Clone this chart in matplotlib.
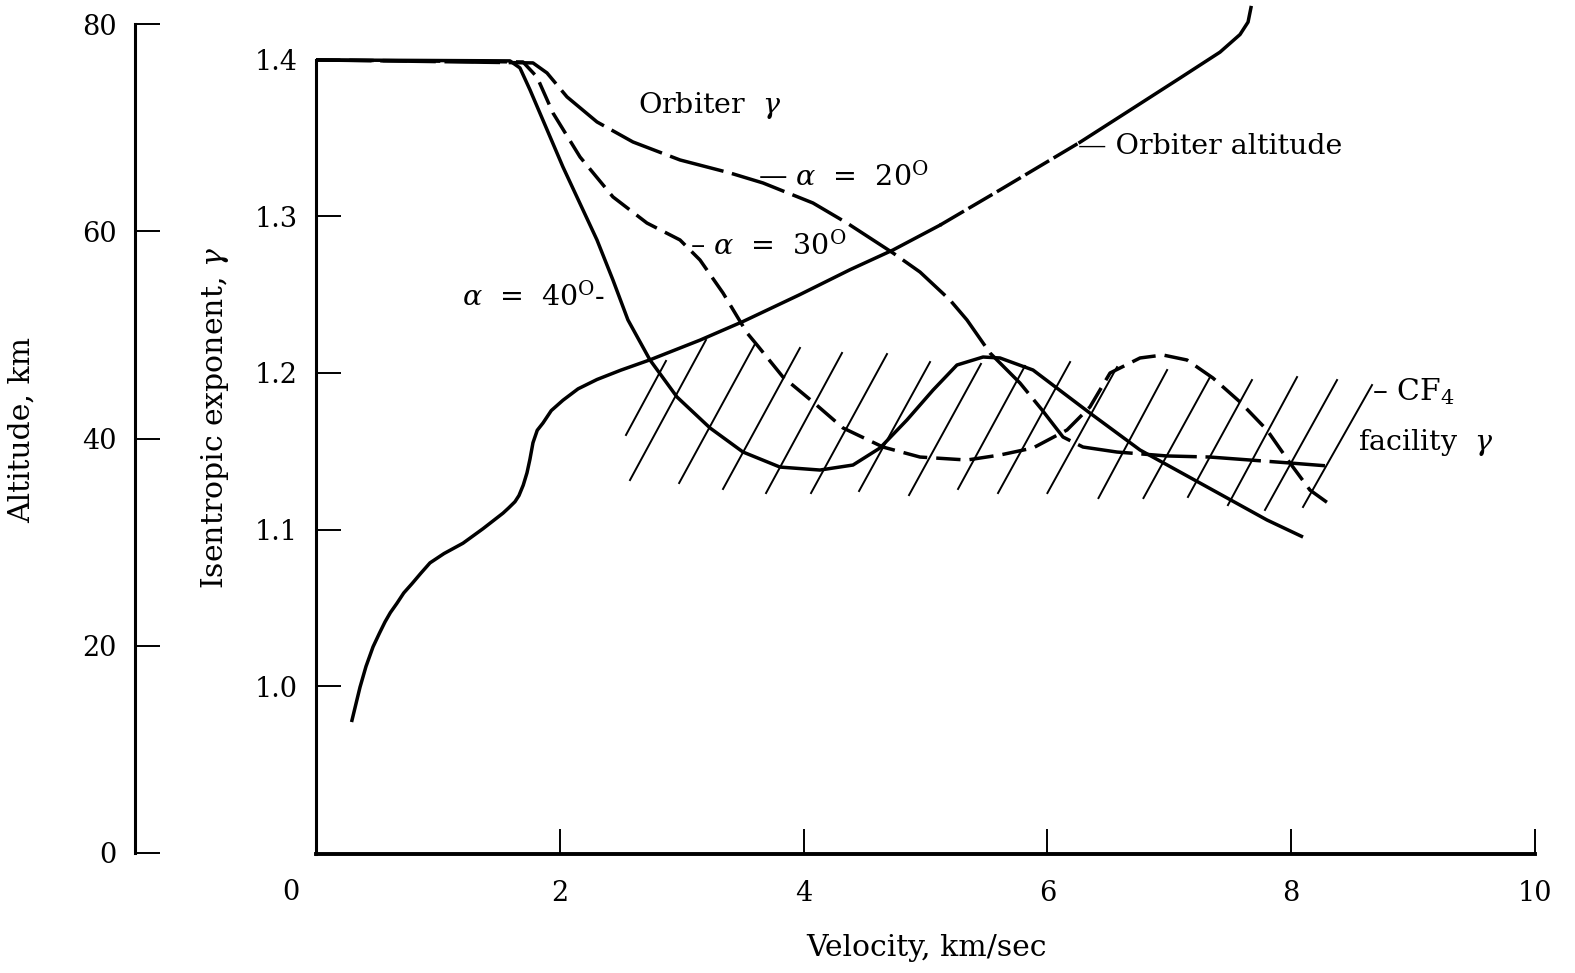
import numpy as np
import matplotlib
matplotlib.use("Agg")
import matplotlib.pyplot as plt

plt.rcParams['font.family'] = 'DejaVu Serif'
plt.rcParams['mathtext.fontset'] = 'dejavuserif'

# orbiter altitude along the entry, km vs km/sec
alt_vel = [0.295, 0.330, 0.361, 0.410, 0.468, 0.520, 0.566, 0.610, 0.664, 0.720,
           0.788, 0.860, 0.935, 1.050, 1.206, 1.370, 1.534, 1.580, 1.632, 1.665,
           1.700, 1.731, 1.755, 1.780, 1.815, 1.862, 1.930, 2.026, 2.150, 2.305,
           2.500, 2.740, 3.150, 3.503, 3.970, 4.381, 4.733, 5.119, 5.611, 5.939,
           6.267, 6.678, 7.088, 7.416, 7.580, 7.646, 7.670]
alt_km = [12.8, 14.5, 16.0, 18.0, 19.9, 21.2, 22.3, 23.2, 24.1, 25.1,
          26.0, 27.0, 28.0, 28.9, 29.9, 31.3, 32.8, 33.3, 33.9, 34.5,
          35.5, 36.7, 38.0, 39.6, 40.8, 41.5, 42.7, 43.7, 44.8, 45.7,
          46.6, 47.6, 49.5, 51.3, 53.9, 56.3, 58.2, 60.6, 64.0, 66.3,
          68.6, 71.7, 74.8, 77.3, 79.0, 80.2, 81.6]
alt_dashed = (5.119, 6.267)   # stretch of the altitude line drawn broken

# orbiter isentropic exponent for three angles of attack
a40_vel = [0.0, 1.591, 1.673, 1.756, 2.026, 2.305, 2.436, 2.559, 2.740, 2.961,
           3.232, 3.503, 3.806, 4.134, 4.405, 4.627, 4.848, 5.062, 5.258, 5.472,
           5.611, 5.882, 6.349, 6.760, 7.252, 7.801, 8.097]
a40_gam = [1.400, 1.3994, 1.3949, 1.3808, 1.3316, 1.2850, 1.2594, 1.2339, 1.2083, 1.1847,
           1.1649, 1.1495, 1.1399, 1.1380, 1.1412, 1.1521, 1.1700, 1.1891, 1.2051, 1.2102,
           1.2096, 1.2019, 1.1744, 1.1508, 1.1297, 1.1061, 1.0952]

a30_vel = [0.0, 1.698, 1.813, 1.944, 2.166, 2.436, 2.715, 2.986, 3.150, 3.339,
           3.536, 3.618, 3.831, 4.077, 4.323, 4.651, 4.955, 5.340, 5.611, 5.882,
           6.161, 6.349, 6.514, 6.760, 6.948, 7.145, 7.358, 7.580, 7.801, 7.990,
           8.154, 8.302]
a30_gam = [1.400, 1.3987, 1.3891, 1.3661, 1.3380, 1.3125, 1.2958, 1.2850, 1.2722, 1.2511,
           1.2256, 1.2179, 1.1974, 1.1815, 1.1649, 1.1527, 1.1463, 1.1444, 1.1476, 1.1521,
           1.1636, 1.1783, 1.2000, 1.2096, 1.2115, 1.2083, 1.1968, 1.1815, 1.1636, 1.1425,
           1.1252, 1.1169]

a20_vel = [0.0, 1.780, 1.895, 2.059, 2.305, 2.600, 2.986, 3.396, 3.667, 4.077,
           4.356, 4.733, 4.955, 5.201, 5.340, 5.529, 5.775, 5.956, 6.128, 6.292,
           6.571, 6.981, 7.334, 7.990, 8.302]
a20_gam = [1.400, 1.3981, 1.3917, 1.3764, 1.3604, 1.3476, 1.3361, 1.3278, 1.3214, 1.3086,
           1.2958, 1.2767, 1.2645, 1.2466, 1.2339, 1.2128, 1.1936, 1.1764, 1.1591, 1.1527,
           1.1495, 1.1470, 1.1463, 1.1425, 1.1406]

# CF4 facility range, one hatch stroke per entry (lower end -> upper end)
cf4_vel_lo = [2.543, 2.576, 2.979, 3.339, 3.692, 4.061, 4.455, 4.865, 5.267,
              5.595, 6.000, 6.419, 6.788, 7.153, 7.481, 7.785, 8.097]
cf4_gam_lo = [1.1604, 1.1316, 1.1297, 1.1259, 1.1233, 1.1233, 1.1246, 1.1220, 1.1259,
              1.1233, 1.1233, 1.1201, 1.1201, 1.1208, 1.1156, 1.1125, 1.1144]
cf4_vel_hi = [2.871, 3.199, 3.601, 3.970, 4.315, 4.684, 5.037, 5.455, 5.816,
              6.186, 6.571, 6.982, 7.334, 7.678, 8.048, 8.376, 8.663]
cf4_gam_hi = [1.2077, 1.2211, 1.2185, 1.2160, 1.2128, 1.2121, 1.2070, 1.2058, 1.2045,
              1.2070, 1.2038, 1.2019, 1.1974, 1.1955, 1.1974, 1.1955, 1.1923]

vel_ticks = [2, 4, 6, 8, 10]
gam_ticks = [1.0, 1.1, 1.2, 1.3, 1.4]
alt_ticks = [0, 20, 40, 60, 80]

W, H = 1575, 973
fig = plt.figure(figsize=(W / 100, H / 100), dpi=100)
ax = fig.add_axes([316 / W, (H - 854) / H, 1219 / W, 849 / H])
ax2 = ax.twinx()

lw = 2.5
ax.plot(a40_vel, a40_gam, color='black', lw=lw, solid_capstyle='butt')
ax.plot(a30_vel, a30_gam, color='black', lw=lw, dashes=(7, 2.6))
ax.plot(a20_vel, a20_gam, color='black', lw=lw, dashes=(16, 2.5))

for vb, gb, vt, gt in zip(cf4_vel_lo, cf4_gam_lo, cf4_vel_hi, cf4_gam_hi):
    ax.plot([vb, vt], [gb, gt], color='black', lw=1.4)

# altitude line: solid, broken over the middle stretch, solid again
av = np.array(alt_vel)
ah = np.array(alt_km)
i0 = int(np.searchsorted(av, alt_dashed[0]))
i1 = int(np.searchsorted(av, alt_dashed[1]))
ax2.plot(av[:i0 + 1], ah[:i0 + 1], color='black', lw=lw)
ax2.plot(av[i0:i1 + 1], ah[i0:i1 + 1], color='black', lw=lw, dashes=(8, 1.5))
ax2.plot(av[i1:], ah[i1:], color='black', lw=lw)

ax.set_xlim(0, 10)
ax.set_ylim(0.8927, 1.4351)
ax2.set_ylim(-0.1, 81.85)

for s in ['top', 'right']:
    ax.spines[s].set_visible(False)
for s in ['top', 'right', 'bottom']:
    ax2.spines[s].set_visible(False)
ax.spines['left'].set_bounds(0.8927, 1.4)
ax.spines['left'].set_linewidth(2.2)
ax.spines['bottom'].set_linewidth(2.8)

ax2.spines['left'].set_visible(True)
ax2.spines['left'].set_position(('outward', 181 * 0.72))
ax2.spines['left'].set_bounds(0, 80)
ax2.spines['left'].set_linewidth(2.2)
ax2.yaxis.set_ticks_position('left')
ax2.yaxis.set_label_position('left')

ax.set_xticks(vel_ticks)
ax.set_xticklabels([str(t) for t in vel_ticks])
ax.set_yticks(gam_ticks)
ax.set_yticklabels(['%.1f' % t for t in gam_ticks])
ax2.set_yticks(alt_ticks)
ax2.set_yticklabels([str(t) for t in alt_ticks])

tfs = 19.5
ax.tick_params(axis='x', direction='in', length=18, width=1.4, pad=19, labelsize=tfs)
ax.tick_params(axis='y', direction='in', length=18, width=1.4, pad=13, labelsize=tfs)
ax2.tick_params(axis='y', direction='in', length=18, width=1.4, pad=13, labelsize=tfs)

# origin label sits left of the axis corner
ax.annotate('0', xy=(0, 0), xycoords='axes fraction', xytext=(-18, -28),
            textcoords='offset points', ha='center', va='center', fontsize=tfs)

lfs = 21.5
fig.text(22 / W, 1 - 430 / H, 'Altitude, km', rotation=90, ha='center', va='center', fontsize=lfs)
fig.text(215 / W, 1 - 418 / H, r'Isentropic exponent, $\gamma$', rotation=90,
         ha='center', va='center', fontsize=lfs)
fig.text(926 / W, 1 - 948 / H, 'Velocity, km/sec', ha='center', va='center', fontsize=lfs)

fs = 20.5
ax.text(2.641, 1.3712, r'Orbiter  $\gamma$', ha='left', va='center', fontsize=fs)
ax.text(3.626, 1.3252, '\u2014 $\\alpha$  =  20$^{\\rm O}$', ha='left', va='center', fontsize=fs)
ax.text(3.068, 1.2812, '\u2013 $\\alpha$  =  30$^{\\rm O}$', ha='left', va='center', fontsize=fs)
ax.text(2.371, 1.2486, '$\\alpha$  =  40$^{\\rm O}$-', ha='right', va='center', fontsize=fs)
ax.text(6.251, 1.3444, '\u2014 Orbiter altitude', ha='left', va='center', fontsize=fs)
ax.text(8.663, 1.1879, '\u2013 CF$_4$', ha='left', va='center', fontsize=fs + 1)
ax.text(8.548, 1.1553, r'facility  $\gamma$', ha='left', va='center', fontsize=fs)

fig.savefig('out.png', dpi=100)
